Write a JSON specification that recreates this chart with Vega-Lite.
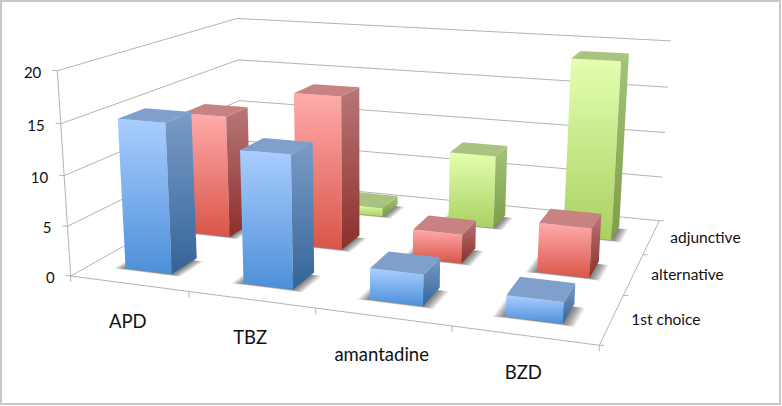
{
"$schema":"https://vega.github.io/schema/vega-lite/v6.json",
"width":779,"height":403,
"padding":{"left":1,"top":1,"right":2,"bottom":2},
"autosize":{"type":"none"},
"background":"#ffffff",
"view":{"stroke":"#c8c8c8","strokeWidth":2,"fill":"#ffffff"},
"config":{"text":{"font":"Lato"}},
"datasets":{
"bars":[
{"drug":"APD","series":"1st choice","value":15},
{"drug":"TBZ","series":"1st choice","value":13},
{"drug":"amantadine","series":"1st choice","value":3},
{"drug":"BZD","series":"1st choice","value":2},
{"drug":"APD","series":"alternative","value":13},
{"drug":"TBZ","series":"alternative","value":16},
{"drug":"amantadine","series":"alternative","value":3},
{"drug":"BZD","series":"alternative","value":5},
{"drug":"APD","series":"adjunctive","value":0},
{"drug":"TBZ","series":"adjunctive","value":1},
{"drug":"amantadine","series":"adjunctive","value":8},
{"drug":"BZD","series":"adjunctive","value":19}
],
"levels":[{"level":0},{"level":5},{"level":10},{"level":15},{"level":20}],
"drugs":[{"drug":"APD"},{"drug":"TBZ"},{"drug":"amantadine"},{"drug":"BZD"}],
"seriesNames":[{"series":"1st choice"},{"series":"alternative"},{"series":"adjunctive"}]
},
"data":{"name":"bars"},
"encoding":{
"x":{"field":"px","type":"quantitative","axis":null,"scale":{"domain":[1,780],"range":[0,779],"nice":false,"zero":false}},
"y":{"field":"py","type":"quantitative","axis":null,"scale":{"domain":[1,404],"range":[0,403],"nice":false,"zero":false}}
},
"layer":[
{"data":{"name":"levels"},
"transform":[
{"calculate":"datum.level==0?['wall','back','tick','front','side']:datum.level==20?['wall','back','tick','axis']:['wall','back','tick']","as":"seg"},
{"flatten":["seg"]},
{"calculate":"datum.seg=='tick'?-0.011:datum.seg=='side'?1:0","as":"pu"},
{"calculate":"datum.seg=='back'?1:0","as":"pv"},
{"calculate":"datum.seg=='axis'?0:datum.level","as":"pz"},
{"calculate":"datum.seg=='back'||datum.seg=='side'||datum.seg=='front'?1:0","as":"qu"},
{"calculate":"datum.seg=='wall'||datum.seg=='back'||datum.seg=='side'?1:0","as":"qv"},
{"calculate":"datum.level","as":"qz"},
{"calculate":"(70.7+447.1*datum.pu+239.7*datum.pv-0.7955*datum.pz)/(1-0.136*datum.pu+0.285*datum.pv-0.00219*datum.pz)","as":"px"},
{"calculate":"(276+22.3*datum.pu-44.7*datum.pv-10.42*datum.pz)/(1-0.136*datum.pu+0.285*datum.pv-0.00219*datum.pz)","as":"py"},
{"calculate":"(70.7+447.1*datum.qu+239.7*datum.qv-0.7955*datum.qz)/(1-0.136*datum.qu+0.285*datum.qv-0.00219*datum.qz)","as":"qx"},
{"calculate":"(276+22.3*datum.qu-44.7*datum.qv-10.42*datum.qz)/(1-0.136*datum.qu+0.285*datum.qv-0.00219*datum.qz)","as":"qy"}
],
"mark":{"type":"rule","color":"#b4b4b4","strokeWidth":1},
"encoding":{"x2":{"field":"qx"},"y2":{"field":"qy"}}
},
{"data":{"name":"levels"},
"transform":[
{"calculate":"(70.7-0.7955*datum.level)/(1-0.00219*datum.level)","as":"px"},
{"calculate":"(276-10.42*datum.level)/(1-0.00219*datum.level)","as":"py"}
],
"mark":{"type":"text","align":"right","baseline":"middle","dx":-16,"dy":2,"fontSize":15,"fill":"#111111"},
"encoding":{"text":{"field":"level","type":"quantitative"}}
},
{"data":{"name":"drugs"},
"transform":[
{"calculate":"indexof(['APD','TBZ','amantadine','BZD'],datum.drug)","as":"i"},
{"calculate":"datum.i==3?[0.75,1]:[datum.i/4]","as":"pu"},
{"flatten":["pu"]},
{"calculate":"(70.7+447.1*datum.pu)/(1-0.136*datum.pu)","as":"px"},
{"calculate":"(276+22.3*datum.pu)/(1-0.136*datum.pu)","as":"py"},
{"calculate":"datum.py+6","as":"qy"}
],
"mark":{"type":"rule","color":"#b4b4b4","strokeWidth":1},
"encoding":{"y2":{"field":"qy"}}
},
{"data":{"name":"seriesNames"},
"transform":[
{"calculate":"indexof(['1st choice','alternative','adjunctive'],datum.series)","as":"j"},
{"calculate":"datum.j==2?[2/3,1]:[datum.j/3]","as":"pv"},
{"flatten":["pv"]},
{"calculate":"(517.8+239.7*datum.pv)/(0.864+0.285*datum.pv)","as":"px"},
{"calculate":"(298.3-44.7*datum.pv)/(0.864+0.285*datum.pv)","as":"py"},
{"calculate":"datum.px+5","as":"qx"}
],
"mark":{"type":"rule","color":"#b4b4b4","strokeWidth":1},
"encoding":{"x2":{"field":"qx"}}
},
{"data":{"name":"drugs"},
"transform":[
{"calculate":"(indexof(['APD','TBZ','amantadine','BZD'],datum.drug)+0.5)/4","as":"pu"},
{"calculate":"(70.7+447.1*datum.pu)/(1-0.136*datum.pu)","as":"px"},
{"calculate":"(276+22.3*datum.pu)/(1-0.136*datum.pu)","as":"py"}
],
"mark":{"type":"text","align":"center","baseline":"middle","dx":-1,"dy":38,"fontSize":18.5,"fill":"#111111"},
"encoding":{"text":{"field":"drug","type":"nominal"}}
},
{"data":{"name":"seriesNames"},
"transform":[
{"calculate":"(indexof(['1st choice','alternative','adjunctive'],datum.series)+0.5)/3","as":"pv"},
{"calculate":"(517.8+239.7*datum.pv)/(0.864+0.285*datum.pv)","as":"px"},
{"calculate":"(298.3-44.7*datum.pv)/(0.864+0.285*datum.pv)","as":"py"}
],
"mark":{"type":"text","align":"center","baseline":"middle","dx":54,"dy":1,"fontSize":15.5,"fill":"#111111"},
"encoding":{"text":{"field":"series","type":"nominal"}}
},
{"transform":[
{"filter":"datum.value>0"},
{"calculate":"indexof(['APD','TBZ','amantadine','BZD'],datum.drug)","as":"i"},
{"calculate":"indexof(['1st choice','alternative','adjunctive'],datum.series)","as":"j"},
{"calculate":"[0.003,0.006,0.009,0.012,0.015,0.018,0.021]","as":"e"},
{"flatten":["e"]},
{"calculate":"[0,1,2,3]","as":"t"},
{"flatten":["t"]},
{"calculate":"datum.drug+datum.series+datum.e","as":"key"},
{"calculate":"(datum.i+0.5)/4+(datum.t==0||datum.t==3?-0.05-datum.e:0.05+datum.e)","as":"pu"},
{"calculate":"(datum.j+0.5)/3+(datum.t<2?-0.068-datum.e*0.5:0.05)","as":"pv"},
{"calculate":"(70.7+447.1*datum.pu+239.7*datum.pv)/(1-0.136*datum.pu+0.285*datum.pv)","as":"px"},
{"calculate":"(276+22.3*datum.pu-44.7*datum.pv)/(1-0.136*datum.pu+0.285*datum.pv)","as":"py"}
],
"mark":{"type":"line","filled":true,"fill":"#000000","fillOpacity":0.085,"strokeWidth":0},
"encoding":{"detail":{"field":"key"},"order":{"field":"t"}}
},
{"transform":[
{"filter":"datum.value>0"},
{"calculate":"indexof(['APD','TBZ','amantadine','BZD'],datum.drug)","as":"i"},
{"calculate":"indexof(['1st choice','alternative','adjunctive'],datum.series)","as":"j"},
{"calculate":"['front','side','top']","as":"f"},
{"flatten":["f"]},
{"calculate":"[0,1,2,3]","as":"t"},
{"flatten":["t"]},
{"calculate":"datum.drug+datum.series+datum.f","as":"key"},
{"calculate":"(datum.i+0.5)/4-0.05","as":"u0"},
{"calculate":"(datum.i+0.5)/4+0.05","as":"u1"},
{"calculate":"(datum.j+0.5)/3-0.068","as":"v0"},
{"calculate":"(datum.j+0.5)/3+0.068","as":"v1"},
{"calculate":"datum.f=='side'?datum.u1:(datum.t==0||datum.t==3?datum.u0:datum.u1)","as":"pu"},
{"calculate":"datum.f=='front'?datum.v0:datum.f=='side'?(datum.t==0||datum.t==3?datum.v0:datum.v1):(datum.t<2?datum.v0:datum.v1)","as":"pv"},
{"calculate":"datum.f=='top'?datum.value:(datum.t<2?datum.value:0)","as":"pz"},
{"calculate":"(70.7+447.1*datum.pu+239.7*datum.pv-0.7955*datum.pz)/(1-0.136*datum.pu+0.285*datum.pv-0.00219*datum.pz)","as":"px"},
{"calculate":"(276+22.3*datum.pu-44.7*datum.pv-10.42*datum.pz)/(1-0.136*datum.pu+0.285*datum.pv-0.00219*datum.pz)","as":"py"}
],
"encoding":{"detail":{"field":"key"},"order":{"field":"t"}},
"layer":[
{"transform":[{"filter":"datum.series=='adjunctive'&&datum.f=='front'"}],"mark":{"type":"line","filled":true,"strokeWidth":0,"fill":{"gradient":"linear","x1":0,"y1":0,"x2":0,"y2":1,"stops":[{"offset":0,"color":"#e4ffb0"},{"offset":1,"color":"#aad061"}]}}},
{"transform":[{"filter":"datum.series=='adjunctive'&&datum.f=='side'"}],"mark":{"type":"line","filled":true,"strokeWidth":0,"fill":{"gradient":"linear","x1":0,"y1":0,"x2":0,"y2":1,"stops":[{"offset":0,"color":"#a5c27c"},{"offset":1,"color":"#7d9e45"}]}}},
{"transform":[{"filter":"datum.series=='adjunctive'&&datum.f=='top'"}],"mark":{"type":"line","filled":true,"strokeWidth":0,"fill":"#a9c480"}},
{"transform":[{"filter":"datum.series=='alternative'&&datum.f=='front'"}],"mark":{"type":"line","filled":true,"strokeWidth":0,"fill":{"gradient":"linear","x1":0,"y1":0,"x2":0,"y2":1,"stops":[{"offset":0,"color":"#ffabab"},{"offset":1,"color":"#d95548"}]}}},
{"transform":[{"filter":"datum.series=='alternative'&&datum.f=='side'"}],"mark":{"type":"line","filled":true,"strokeWidth":0,"fill":{"gradient":"linear","x1":0,"y1":0,"x2":0,"y2":1,"stops":[{"offset":0,"color":"#b87777"},{"offset":1,"color":"#8c2f2a"}]}}},
{"transform":[{"filter":"datum.series=='alternative'&&datum.f=='top'"}],"mark":{"type":"line","filled":true,"strokeWidth":0,"fill":"#c98282"}},
{"transform":[{"filter":"datum.series=='1st choice'&&datum.f=='front'"}],"mark":{"type":"line","filled":true,"strokeWidth":0,"fill":{"gradient":"linear","x1":0,"y1":0,"x2":0,"y2":1,"stops":[{"offset":0,"color":"#aaceff"},{"offset":1,"color":"#4c8fd8"}]}}},
{"transform":[{"filter":"datum.series=='1st choice'&&datum.f=='side'"}],"mark":{"type":"line","filled":true,"strokeWidth":0,"fill":{"gradient":"linear","x1":0,"y1":0,"x2":0,"y2":1,"stops":[{"offset":0,"color":"#7a9cc8"},{"offset":1,"color":"#356498"}]}}},
{"transform":[{"filter":"datum.series=='1st choice'&&datum.f=='top'"}],"mark":{"type":"line","filled":true,"strokeWidth":0,"fill":"#7f9fcd"}}
]
}
]
}
